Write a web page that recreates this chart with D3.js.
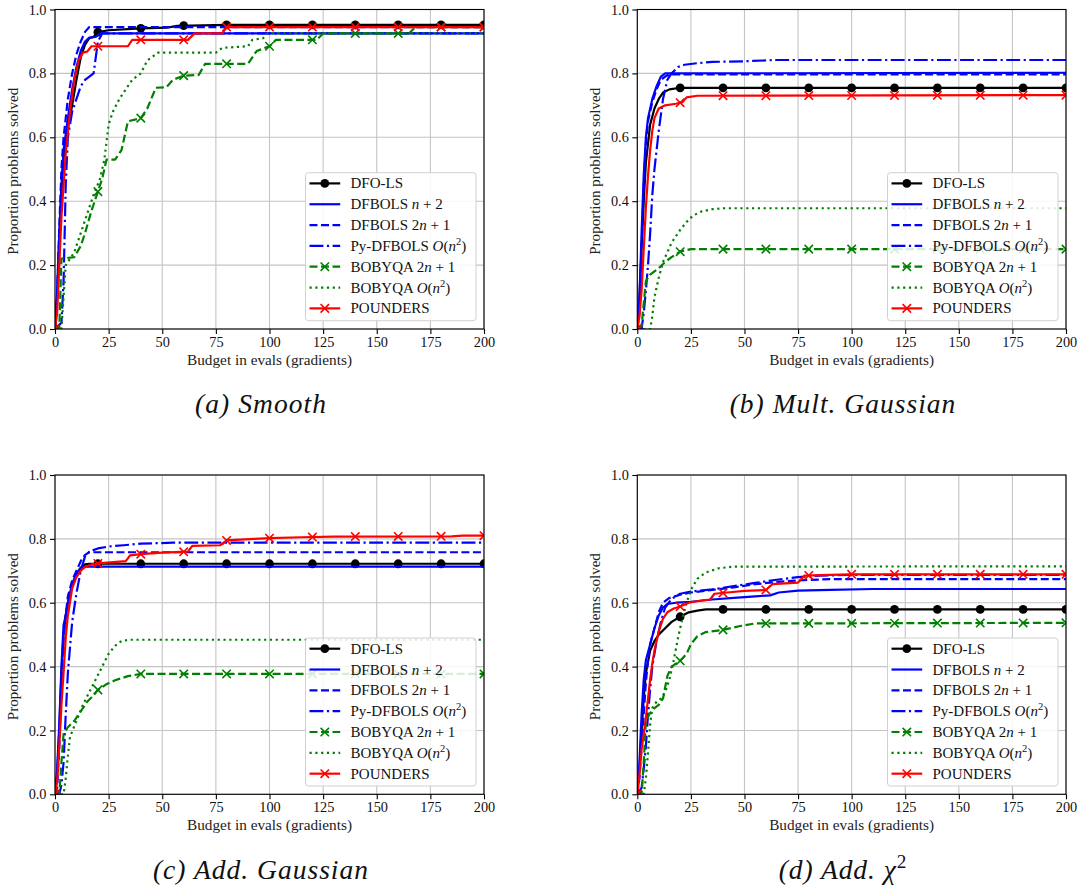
<!DOCTYPE html>
<html><head><meta charset="utf-8">
<script src="https://cdn.jsdelivr.net/npm/d3@7"></script>
<style>
body{margin:0;background:#fff}
svg{display:block}
svg text{white-space:pre;font-family:"Liberation Serif","Times New Roman","DejaVu Serif",serif}
</style>
</head><body>
<svg id="fig" width="1082" height="891"></svg>
<script>
// ---------- ticks & labels ----------
const xTicks = [0, 25, 50, 75, 100, 125, 150, 175, 200];
const yTicks = [0, 0.2, 0.4, 0.6, 0.8, 1.0];
const markerXs = [0, 20, 40, 60, 80, 100, 120, 140, 160, 180, 200];
const xLabel = "Budget in evals (gradients)";
const yLabel = "Proportion problems solved";
const legendLabels = [
  [["DFO-LS"]],
  [["DFBOLS "], ["n", "i"], [" + 2"]],
  [["DFBOLS 2"], ["n", "i"], [" + 1"]],
  [["Py-DFBOLS "], ["O", "i"], ["("], ["n", "i"], ["2", "s"], [")"]],
  [["BOBYQA 2"], ["n", "i"], [" + 1"]],
  [["BOBYQA "], ["O", "i"], ["("], ["n", "i"], ["2", "s"], [")"]],
  [["POUNDERS"]]
];
const captions = [
  [["(a) Smooth", "i"]],
  [["(b) Mult. Gaussian", "i"]],
  [["(c) Add. Gaussian", "i"]],
  [["(d) Add. ", "i"], ["χ", "i"], ["2", "s"]]
];

// ---------- (a) Smooth ----------
const smoothDfols = [[0,0],[1,0.1],[2,0.28],[3,0.43],[4,0.54],[6,0.63],[8,0.7],[10,0.78],[12,0.85],[14,0.89],[16,0.91],[18,0.915],[20,0.929],[25,0.935],[40,0.941],[52,0.943],[57,0.949],[75,0.951],[80,0.952],[200,0.952]];
const smoothNp2 = [[0,0],[1,0.12],[2,0.3],[3,0.45],[4,0.56],[6,0.66],[8,0.75],[10,0.82],[12,0.87],[14,0.9],[16,0.912],[19,0.914],[21,0.925],[200,0.925]];
const smooth2np1 = [[0,0],[1,0.1],[2,0.32],[3,0.5],[4,0.6],[6,0.72],[8,0.8],[10,0.86],[12,0.9],[14,0.93],[16,0.945],[200,0.945]];
const smoothPyOn2 = [[0,0],[3,0.02],[4,0.15],[5,0.45],[6,0.6],[8,0.68],[10,0.72],[12,0.76],[14,0.78],[16,0.79],[18,0.8],[20,0.9],[22,0.925],[200,0.925]];
const smoothBob2np1 = [[0,0],[2,0],[3,0.22],[9,0.225],[12,0.26],[14,0.3],[17,0.37],[20,0.43],[22,0.47],[24,0.53],[28,0.53],[31,0.56],[34,0.65],[40,0.66],[43,0.69],[47,0.755],[52,0.757],[55,0.78],[60,0.793],[67,0.795],[70,0.83],[90,0.83],[94,0.87],[100,0.885],[103,0.905],[122,0.905],[125,0.925],[165,0.925],[168,0.945],[200,0.945]];
const smoothBobOn2 = [[0,0],[3,0],[4,0.1],[5,0.2],[7,0.22],[9,0.24],[12,0.3],[15,0.36],[18,0.42],[21,0.47],[23,0.53],[25,0.64],[27,0.68],[30,0.72],[33,0.75],[36,0.78],[40,0.8],[43,0.84],[46,0.855],[48,0.865],[75,0.865],[78,0.88],[90,0.885],[92,0.905],[97,0.91],[99,0.925],[200,0.925]];
const smoothPounders = [[0,0],[1,0.05],[2,0.2],[3,0.35],[5,0.55],[7,0.68],[9,0.78],[11,0.84],[13,0.865],[15,0.868],[17,0.885],[34,0.885],[36,0.905],[62,0.905],[65,0.925],[78,0.925],[80,0.945],[200,0.945]];

// ---------- (b) Mult. Gaussian ----------
const multDfols = [[0,0],[1,0.1],[2,0.25],[3,0.4],[4,0.52],[5,0.58],[6,0.64],[8,0.69],[10,0.72],[12,0.74],[15,0.75],[20,0.755],[200,0.755]];
const multNp2 = [[0,0],[1,0.1],[2,0.3],[3,0.48],[4,0.6],[5,0.66],[7,0.72],[9,0.76],[11,0.79],[13,0.8],[200,0.802]];
const mult2np1 = [[0,0],[1,0.05],[2,0.25],[3,0.45],[4,0.58],[5,0.65],[7,0.71],[9,0.75],[11,0.78],[13,0.79],[15,0.797],[200,0.797]];
const multPyOn2 = [[0,0],[2,0],[3,0.05],[4,0.12],[5,0.2],[6,0.3],[7,0.42],[8,0.5],[10,0.62],[12,0.72],[14,0.78],[16,0.8],[19,0.82],[22,0.827],[28,0.832],[35,0.836],[50,0.838],[65,0.842],[200,0.842]];
const multBob2np1 = [[0,0],[2,0.01],[3,0.08],[4,0.15],[6,0.17],[8,0.18],[10,0.19],[13,0.21],[16,0.225],[20,0.242],[25,0.25],[200,0.25]];
const multBobOn2 = [[0,0],[6,0],[7,0.04],[8,0.1],[10,0.16],[12,0.21],[14,0.24],[16,0.27],[18,0.29],[20,0.31],[23,0.335],[26,0.355],[30,0.368],[35,0.375],[40,0.378],[200,0.378]];
const multPounders = [[0,0],[1,0.04],[2,0.12],[3,0.25],[4,0.38],[5,0.48],[6,0.56],[7,0.62],[8,0.66],[10,0.69],[13,0.7],[18,0.705],[21,0.71],[23,0.725],[28,0.73],[200,0.732]];

// ---------- (c) Add. Gaussian ----------
const addgDfols = [[0,0],[1,0.06],[2,0.2],[3,0.38],[4,0.5],[5,0.56],[6,0.6],[8,0.65],[10,0.69],[12,0.71],[14,0.72],[16,0.722],[200,0.722]];
const addgNp2 = [[0,0],[1,0.08],[2,0.22],[3,0.4],[4,0.53],[5,0.56],[6,0.6],[8,0.66],[10,0.69],[12,0.708],[14,0.713],[200,0.713]];
const addg2np1 = [[0,0],[1,0.02],[2,0.15],[3,0.35],[4,0.48],[5,0.56],[6,0.62],[8,0.67],[10,0.7],[12,0.73],[14,0.75],[16,0.758],[200,0.758]];
const addgPyOn2 = [[0,0],[2,0],[3,0.03],[4,0.1],[5,0.25],[6,0.38],[7,0.46],[8,0.54],[10,0.63],[12,0.7],[14,0.745],[16,0.76],[20,0.77],[25,0.776],[32,0.78],[40,0.785],[55,0.788],[200,0.788]];
const addgBob2np1 = [[0,0],[2,0],[3,0.1],[4,0.19],[6,0.21],[9,0.23],[12,0.26],[15,0.29],[18,0.31],[20,0.327],[24,0.345],[28,0.357],[34,0.37],[40,0.377],[200,0.377]];
const addgBobOn2 = [[0,0],[4,0],[5,0.05],[6,0.12],[7,0.18],[10,0.23],[13,0.28],[16,0.32],[19,0.36],[22,0.4],[25,0.44],[28,0.465],[31,0.48],[35,0.484],[200,0.484]];
const addgPounders = [[0,0],[1,0.04],[2,0.15],[3,0.28],[4,0.38],[5,0.49],[6,0.56],[8,0.645],[10,0.68],[12,0.7],[14,0.712],[17,0.72],[20,0.723],[33,0.73],[35,0.748],[40,0.752],[50,0.757],[62,0.76],[64,0.778],[77,0.78],[80,0.795],[93,0.8],[100,0.802],[115,0.805],[130,0.807],[185,0.808],[190,0.81],[200,0.81]];

// ---------- (d) Add. chi^2 ----------
const chiDfols = [[0,0],[1,0.08],[2,0.2],[3,0.3],[4,0.38],[6,0.45],[8,0.48],[10,0.5],[13,0.52],[16,0.54],[20,0.556],[24,0.57],[28,0.575],[32,0.579],[200,0.579]];
const chiNp2 = [[0,0],[1,0.1],[2,0.25],[3,0.36],[4,0.42],[6,0.47],[8,0.52],[10,0.56],[12,0.585],[14,0.596],[18,0.6],[25,0.603],[35,0.61],[45,0.615],[55,0.62],[62,0.623],[66,0.632],[75,0.638],[90,0.64],[110,0.643],[200,0.643]];
const chi2np1 = [[0,0],[1,0.05],[2,0.15],[3,0.25],[4,0.35],[5,0.42],[6,0.47],[8,0.52],[10,0.57],[12,0.6],[15,0.615],[20,0.625],[25,0.632],[35,0.64],[45,0.648],[55,0.658],[65,0.665],[75,0.67],[90,0.674],[200,0.674]];
const chiPyOn2 = [[0,0],[2,0.02],[3,0.08],[4,0.15],[5,0.25],[6,0.33],[7,0.4],[9,0.48],[11,0.54],[13,0.585],[16,0.612],[20,0.628],[25,0.635],[35,0.642],[45,0.652],[55,0.662],[65,0.672],[75,0.68],[85,0.685],[100,0.687],[200,0.687]];
const chiBob2np1 = [[0,0],[2,0],[3,0.1],[4,0.23],[6,0.255],[8,0.27],[10,0.28],[12,0.3],[14,0.37],[16,0.4],[20,0.418],[23,0.44],[25,0.47],[28,0.495],[32,0.508],[40,0.515],[48,0.527],[55,0.535],[200,0.537]];
const chiBobOn2 = [[0,0],[3,0],[4,0.05],[5,0.13],[6,0.22],[7,0.27],[9,0.29],[11,0.3],[13,0.32],[15,0.36],[17,0.42],[19,0.49],[21,0.55],[23,0.6],[25,0.64],[28,0.675],[32,0.695],[38,0.708],[45,0.713],[200,0.714]];
const chiPounders = [[0,0],[1,0.06],[2,0.14],[3,0.19],[4,0.24],[5,0.3],[6,0.36],[7,0.41],[8,0.45],[10,0.51],[12,0.55],[14,0.57],[17,0.582],[20,0.588],[24,0.6],[30,0.607],[34,0.61],[36,0.628],[42,0.632],[50,0.637],[60,0.64],[63,0.658],[75,0.663],[78,0.685],[90,0.687],[100,0.689],[200,0.689]];

// ---------- styles ----------
const seriesColors = ["#000000", "#0000ff", "#0000ff", "#0000ff", "#008000", "#008000", "#ff0000"];
const seriesDash = [null, null, "8,3.5", "13.9,3.5,2.2,3.5", "8,3.5", "2.2,3.6", null];
const seriesMarker = ["o", null, null, null, "x", null, "x"];

const panelSeries = [
  [smoothDfols, smoothNp2, smooth2np1, smoothPyOn2, smoothBob2np1, smoothBobOn2, smoothPounders],
  [multDfols, multNp2, mult2np1, multPyOn2, multBob2np1, multBobOn2, multPounders],
  [addgDfols, addgNp2, addg2np1, addgPyOn2, addgBob2np1, addgBobOn2, addgPounders],
  [chiDfols, chiNp2, chi2np1, chiPyOn2, chiBob2np1, chiBobOn2, chiPounders]
];
const panelBoxes = [
  {x0: 55, x1: 484, y0: 9.5, y1: 329, cx: 261, cy: 413},
  {x0: 637.3, x1: 1066, y0: 9.5, y1: 329, cx: 843, cy: 413},
  {x0: 55, x1: 484, y0: 475, y1: 794.3, cx: 261, cy: 878.5},
  {x0: 637.3, x1: 1066, y0: 475, y1: 794.3, cx: 843, cy: 878.5}
];

const svg = d3.select("#fig");

function addSegments(t, segs, base) {
  let shifted = false;
  segs.forEach(([txt, s]) => {
    const ts = t.append("tspan").text(txt);
    ts.style("font-style", s === "i" ? "italic" : "normal");
    if (s === "s") {
      ts.style("font-size", (base * 0.7) + "px").attr("dy", -base * 0.38);
      shifted = true;
    } else if (shifted) {
      ts.attr("dy", base * 0.38);
      shifted = false;
    }
  });
}

function drawMarker(g, type, cx, cy, color) {
  if (type === "o") {
    g.append("circle").attr("cx", cx).attr("cy", cy).attr("r", 4.4).attr("fill", color);
  } else if (type === "x") {
    const h = 4.2;
    g.append("path")
      .attr("d", `M${cx - h},${cy - h}L${cx + h},${cy + h}M${cx - h},${cy + h}L${cx + h},${cy - h}`)
      .attr("stroke", color).attr("stroke-width", 1.6).attr("fill", "none");
  }
}

const captionNodes = [];

panelSeries.forEach((seriesList, pi) => {
  const b = panelBoxes[pi];
  const x = d3.scaleLinear().domain([0, 200]).range([b.x0, b.x1]);
  const y = d3.scaleLinear().domain([0, 1]).range([b.y1, b.y0]);
  const g = svg.append("g");

  // grid
  g.append("g").selectAll("line").data(xTicks).join("line")
    .attr("x1", d => x(d)).attr("x2", d => x(d)).attr("y1", b.y0).attr("y2", b.y1)
    .attr("stroke", "#c4c4c4").attr("stroke-width", 1.1);
  g.append("g").selectAll("line").data(yTicks).join("line")
    .attr("y1", d => y(d)).attr("y2", d => y(d)).attr("x1", b.x0).attr("x2", b.x1)
    .attr("stroke", "#c4c4c4").attr("stroke-width", 1.1);

  const clipId = "clip" + pi;
  svg.append("clipPath").attr("id", clipId).append("rect")
    .attr("x", b.x0).attr("y", b.y0).attr("width", b.x1 - b.x0).attr("height", b.y1 - b.y0);
  const plot = g.append("g").attr("clip-path", `url(#${clipId})`);

  const line = d3.line().x(d => x(d[0])).y(d => y(d[1]));
  seriesList.forEach((data, si) => {
    plot.append("path").datum(data).attr("d", line)
      .attr("fill", "none").attr("stroke", seriesColors[si]).attr("stroke-width", 2.2)
      .attr("stroke-linejoin", "round")
      .attr("stroke-dasharray", seriesDash[si]);
    if (seriesMarker[si]) {
      const interp = d3.scaleLinear().domain(data.map(d => d[0])).range(data.map(d => d[1]));
      markerXs.forEach(mx => drawMarker(plot, seriesMarker[si], x(mx), y(interp(mx)), seriesColors[si]));
    }
  });

  // spines
  g.append("rect").attr("x", b.x0).attr("y", b.y0).attr("width", b.x1 - b.x0).attr("height", b.y1 - b.y0)
    .attr("fill", "none").attr("stroke", "#000").attr("stroke-width", 1.1);

  // axes
  const ax = g.append("g").attr("transform", `translate(0,${b.y1})`)
    .call(d3.axisBottom(x).tickValues(xTicks).tickSize(5).tickPadding(3).tickFormat(d3.format("d")));
  const ay = g.append("g").attr("transform", `translate(${b.x0},0)`)
    .call(d3.axisLeft(y).tickValues(yTicks).tickSize(5).tickPadding(3.5).tickFormat(d3.format(".1f")));
  [ax, ay].forEach(a => {
    a.select(".domain").remove();
    a.attr("font-family", null).attr("font-size", null);
    a.selectAll("text").attr("fill", "#111").style("font-size", "14.3px");
    a.selectAll("line").attr("stroke", "#000").attr("stroke-width", 1.1);
  });

  // axis labels
  g.append("text").attr("x", (b.x0 + b.x1) / 2).attr("y", b.y1 + 35.5)
    .attr("text-anchor", "middle").style("font-size", "14.5px")
    .attr("fill", "#222").text(xLabel)
    .attr("textLength", 165).attr("lengthAdjust", "spacingAndGlyphs");
  g.append("text").attr("transform", `translate(${b.x0 - 37.5},${(b.y0 + b.y1) / 2 + 2}) rotate(-90)`)
    .attr("text-anchor", "middle").style("font-size", "14.5px")
    .attr("fill", "#222").text(yLabel)
    .attr("textLength", 167).attr("lengthAdjust", "spacingAndGlyphs");

  // legend
  const lw = 170.5, lh = 148;
  const lx = b.x1 - 8 - lw, ly = b.y1 - 8.3 - lh;
  const lg = g.append("g");
  lg.append("rect").attr("x", lx).attr("y", ly).attr("width", lw).attr("height", lh)
    .attr("rx", 3).attr("fill", "#fff").attr("fill-opacity", 0.85)
    .attr("stroke", "#d0d0d0").attr("stroke-width", 1);
  legendLabels.forEach((lab, si) => {
    const cy = ly + 10.7 + si * 20.83;
    lg.append("line").attr("x1", lx + 4).attr("x2", lx + 34.7).attr("y1", cy).attr("y2", cy)
      .attr("stroke", seriesColors[si]).attr("stroke-width", 2.2)
      .attr("stroke-dasharray", seriesDash[si]);
    if (seriesMarker[si]) drawMarker(lg, seriesMarker[si], lx + 19.3, cy, seriesColors[si]);
    const t = lg.append("text").attr("x", lx + 45).attr("y", cy + 5)
      .style("font-size", "15px").attr("fill", "#111");
    addSegments(t, lab, 15);
  });

  // caption
  const ct = svg.append("text").attr("x", b.cx).attr("y", b.cy)
    .attr("text-anchor", "middle").style("font-size", "27.5px").attr("fill", "#111");
  addSegments(ct, captions[pi], 27.5);
  captionNodes.push(ct);
});

// widen caption text slightly to match the wider TeX italic face
const baseLen = captionNodes[0].node().getComputedTextLength();
const k = Math.max(1, 132 / baseLen);
captionNodes.forEach(ct => {
  const len = ct.node().getComputedTextLength();
  const n = ct.text().length;
  ct.attr("letter-spacing", (len * (k - 1)) / n);
});
</script>
</body></html>
